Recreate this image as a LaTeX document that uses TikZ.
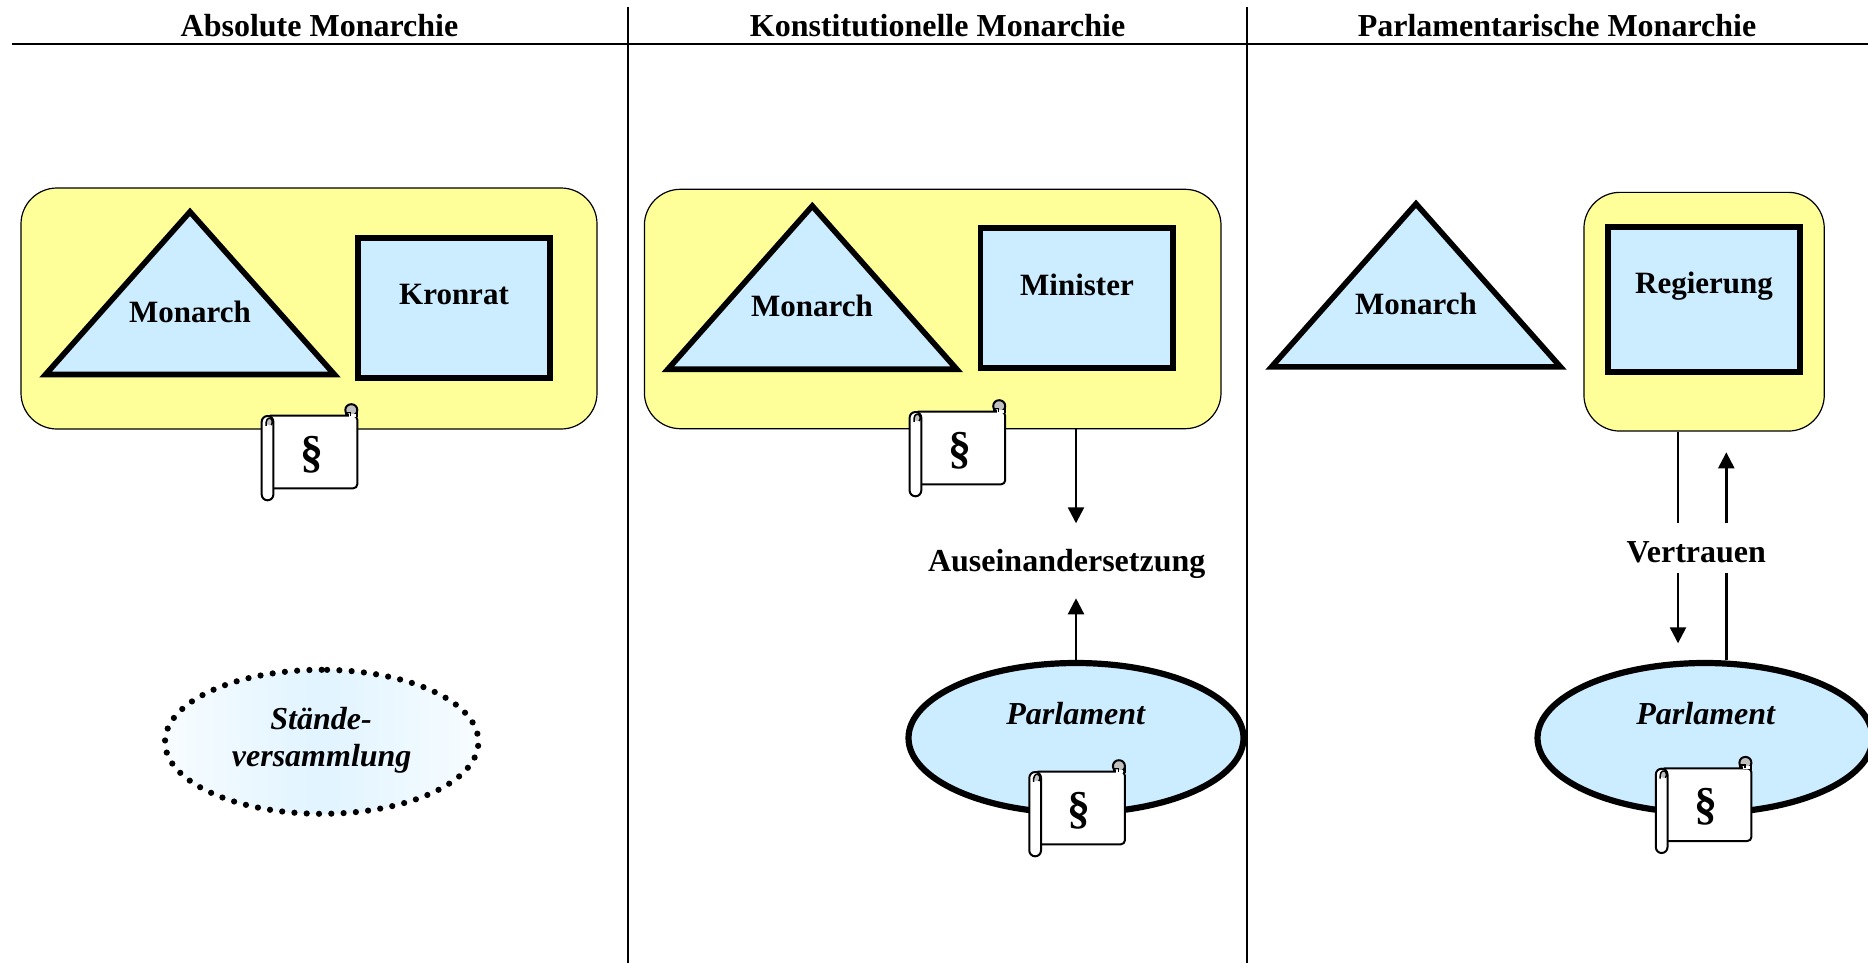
\documentclass[tikz,border=0pt]{standalone}
\usepackage{fontspec}
\setmainfont{Liberation Serif}
\usetikzlibrary{arrows.meta,shapes.geometric}
\definecolor{boxyellow}{HTML}{FFFF99}
\definecolor{shapeblue}{HTML}{CCECFF}
\definecolor{curlgrey}{HTML}{C0C0C0}
\tikzset{
  x=1pt,y=-1pt,
  rule/.style={line width=2.4pt,draw=black},
  yellowbox/.style={rectangle,draw=black,line width=1.2pt,fill=boxyellow,rounded corners=36pt,inner sep=0pt},
  tri/.style={draw=black,line width=5.6pt,fill=shapeblue,line join=miter},
  bluebox/.style={rectangle,draw=black,line width=5.6pt,fill=shapeblue,inner sep=0pt,minimum width=192.4pt},
  parl/.style={ellipse,draw=black,line width=6.2pt,fill=shapeblue,inner sep=0pt,minimum width=335pt,minimum height=150pt},
  lab/.style={anchor=base,inner sep=0pt,font=\fontsize{32}{36}\selectfont\bfseries},
  smalllab/.style={anchor=base,inner sep=0pt,font=\fontsize{31}{36}\selectfont\bfseries},
  itlab/.style={anchor=base,inner sep=0pt,font=\fontsize{32}{36}\selectfont\bfseries\itshape},
  arr/.style={line width=2.4pt,draw=black,-{Triangle[width=16pt,length=16pt]}},
  plain/.style={line width=2.4pt,draw=black},
  scrollline/.style={draw=black,line width=2pt,line join=round},
  scrollpic/.pic={
    \draw[scrollline,fill=white,rounded corners=4pt] (6,12.3) -- (96.6,12.3) -- (96.6,85) -- (8,85) -- cycle;
    \draw[scrollline,fill=curlgrey] (90.6,0.9) .. controls (94,0.9) and (96.6,3.4) .. (96.6,6.8) .. controls (96.6,10.2) and (94,12.3) .. (90.6,12.3) .. controls (87.2,12.3) and (84.6,10.2) .. (84.6,6.8) .. controls (84.6,3.4) and (87.2,0.9) .. (90.6,0.9) -- cycle;
    \draw[draw=white,line width=3pt] (88,11.8) -- (95,11.8);
    \draw[draw=black,line width=1.4pt] (85,12.3) -- (85,9) (85,9) -- (90,9) -- (90,12.3);
    \draw[draw=black,line width=2pt] (96.6,6.8) -- (96.6,14);
    \draw[scrollline,fill=white,rounded corners=5.8pt] (1,12.7) rectangle (12.7,97);
    \fill[curlgrey] (8.7,18.5) circle[radius=3.4pt];
    \draw[draw=black,line width=1.5pt] (5.4,22.5) .. controls (4.8,17) and (7,14.5) .. (9.3,15) .. controls (12,15.5) and (12.2,20) .. (10.5,21.8);
    \node[inner sep=0pt,font=\fontsize{46}{46}\selectfont\bfseries] (p) at (51,51) {§};
  }
}
\begin{document}
\begin{tikzpicture}
\clip (0,0) rectangle (1868,963);
% column 1
\node[yellowbox,minimum width=576pt,minimum height=241pt] (box1) at (309,308.5) {};
\draw[tri] (190,211.8) -- (334.4,374.5) -- (45.6,374.5) -- cycle;
\node[bluebox,minimum height=140.4pt] (kron) at (454,308) {};
\node[smalllab] (mon1) at (190,322.4) {Monarch};
\node[smalllab] (kronl) at (454,304.6) {Kronrat};
\pic (s1) at (260.7,403.3) {scrollpic};
\node[ellipse,inner sep=0pt,minimum width=313.4pt,minimum height=144pt,left color=shapeblue!15,right color=shapeblue!15,middle color=shapeblue!60] (sv) at (321.7,742) {};
\draw[line width=6.2pt,line cap=round,dash pattern=on 0pt off 12.3pt] (sv.north) arc[start angle=90,end angle=450,x radius=156.7pt,y radius=72pt];
\node[itlab] (sv1) at (321,729.3) {Stände-};
\node[itlab] (sv2) at (321.7,766) {versammlung};
% column 2
\node[yellowbox,minimum width=576.6pt,minimum height=239.4pt] (box2) at (932.7,309) {};
\draw[tri] (812.3,206) -- (956.7,369.2) -- (667.9,369.2) -- cycle;
\node[bluebox,minimum height=140.4pt] (min) at (1076.5,298) {};
\node[smalllab] (mon2) at (812,316) {Monarch};
\node[smalllab] (minl) at (1077,295) {Minister};
\pic (s2) at (908.6,399.3) {scrollpic};
\node[parl] (ell2) at (1076,738) {};
\node[itlab] (parl2) at (1075.7,724) {Parlament};
\pic (s3) at (1028.3,759.3) {scrollpic};
\coordinate (a2d) at (1076,523.3);
\coordinate (a2u) at (1076,598.3);
\draw[arr] (box2.south -| a2d) -- (a2d);
\draw[arr] (ell2.north) -- (a2u);
\node[lab] (ausein) at (1066.7,571.7) {Auseinandersetzung};
% column 3
\node[yellowbox,minimum width=240.3pt,minimum height=238.7pt] (box3) at (1704.1,311.7) {};
\draw[tri] (1416,203.8) -- (1560.4,366.8) -- (1271.6,366.8) -- cycle;
\node[bluebox,minimum height=145.4pt] (reg) at (1704,299.5) {};
\node[smalllab] (mon3) at (1416,314) {Monarch};
\node[smalllab] (regl) at (1704,293) {Regierung};
\node[parl] (ell3) at (1705,738) {};
\node[itlab] (parl3) at (1705.7,724.5) {Parlament};
\pic (s4) at (1654.8,756) {scrollpic};
\coordinate (v1a) at (1678,523.3);
\coordinate (v1b) at (1678,573);
\coordinate (v1c) at (1678,643.3);
\coordinate (v2a) at (1726.3,573);
\coordinate (v2b) at (1726.3,523.3);
\coordinate (v2c) at (1726.3,452.3);
\draw[plain] (box3.south -| v1a) -- (v1a);
\draw[arr] (v1b) -- (v1c);
\draw[plain] (ell3.north -| v2a) -- (v2a);
\draw[arr] (v2b) -- (v2c);
\node[lab] (vert) at (1696.3,562.7) {Vertrauen};
% headings and rules
\node[lab] (h1) at (319.5,36.5) {Absolute Monarchie};
\node[lab] (h2) at (937.6,36.5) {Konstitutionelle Monarchie};
\node[lab] (h3) at (1557,36.5) {Parlamentarische Monarchie};
\coordinate (rl) at (12,44);
\coordinate (rr) at (1868,44);
\coordinate (v1t) at (628,7);
\coordinate (v1e) at (628,963);
\coordinate (v2t) at (1247,7);
\coordinate (v2e) at (1247,963);
\draw[rule] (rl) -- (rr);
\draw[rule] (v1t) -- (v1e);
\draw[rule] (v2t) -- (v2e);
\end{tikzpicture}
\end{document}
